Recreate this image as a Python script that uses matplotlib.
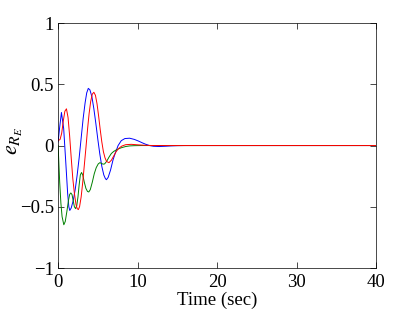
import matplotlib
matplotlib.use("Agg")
import matplotlib.pyplot as plt

t_blue = [0, 0.2, 0.42, 0.7, 0.95, 1.2, 1.35, 1.47, 1.65, 1.9, 2.15, 2.4, 2.65, 2.9, 3.15, 3.4, 3.6, 3.8, 4.0,
          4.25, 4.5, 4.75, 5.0, 5.25, 5.5, 5.75, 5.95, 6.08, 6.3, 6.6, 6.9, 7.2, 7.55, 7.95, 8.4, 9.0, 9.6,
          10.1, 10.6, 11.0, 11.5, 12.0, 12.7, 13.4, 14.2, 15.0, 16, 40]
v_blue = [0.03, 0.15, 0.27, 0.14, -0.12, -0.39, -0.50, -0.53, -0.51, -0.45, -0.36, -0.24, -0.10, 0.06, 0.22,
          0.35, 0.43, 0.467, 0.455, 0.40, 0.30, 0.18, 0.05, -0.07, -0.17, -0.24, -0.27, -0.279, -0.26, -0.2,
          -0.12, -0.06, 0.0, 0.04, 0.057, 0.06, 0.05, 0.037, 0.022, 0.011, 0.0, -0.006, -0.008, -0.006,
          -0.003, -0.001, 0, 0]

t_red = [0, 0.25, 0.45, 0.65, 0.85, 1.05, 1.25, 1.45, 1.65, 1.85, 2.05, 2.25, 2.4, 2.55, 2.7, 2.9, 3.1, 3.3,
         3.5, 3.7, 3.9, 4.1, 4.3, 4.5, 4.7, 4.9, 5.1, 5.3, 5.5, 5.7, 5.9, 6.1, 6.4, 6.7, 7.0, 7.3, 7.6, 8.0,
         8.5, 9.2, 10, 11, 12, 40]
v_red = [0.04, 0.05, 0.1, 0.2, 0.28, 0.30, 0.23, 0.08, -0.10, -0.27, -0.39, -0.48, -0.515, -0.523, -0.5, -0.42,
         -0.3, -0.16, -0.02, 0.13, 0.26, 0.36, 0.42, 0.435, 0.41, 0.34, 0.24, 0.13, 0.03, -0.05, -0.1, -0.13,
         -0.14, -0.12, -0.085, -0.05, -0.025, -0.005, 0.007, 0.01, 0.006, 0.002, 0, 0]

t_green = [0, 0.1, 0.2, 0.35, 0.5, 0.72, 0.9, 1.1, 1.3, 1.45, 1.6, 1.75, 1.9, 2.05, 2.2, 2.35, 2.5, 2.65, 2.8,
           2.95, 3.1, 3.3, 3.5, 3.7, 3.86, 4.05, 4.3, 4.55, 4.8, 5.05, 5.25, 5.45, 5.65, 5.85, 6.1, 6.4, 6.7,
           7.0, 7.3, 7.6, 8.0, 8.5, 9.0, 9.6, 10.5, 40]
v_green = [0, -0.15, -0.3, -0.47, -0.58, -0.647, -0.62, -0.54, -0.45, -0.40, -0.387, -0.40, -0.45, -0.50,
           -0.515, -0.49, -0.42, -0.32, -0.24, -0.22, -0.24, -0.3, -0.35, -0.375, -0.379, -0.36, -0.3, -0.23,
           -0.18, -0.15, -0.14, -0.145, -0.152, -0.15, -0.13, -0.095, -0.065, -0.048, -0.036, -0.027, -0.017,
           -0.008, -0.003, -0.001, 0, 0]

x_ticks = [0, 10, 20, 30, 40]
y_ticks = [-1, -0.5, 0, 0.5, 1]
y_tick_labels = ["\u22121", "\u22120.5", "0", "0.5", "1"]

plt.rcParams['font.family'] = ['Liberation Serif', 'DejaVu Serif']
plt.rcParams['mathtext.fontset'] = 'stix'

fig = plt.figure(figsize=(4.15, 3.12), dpi=100)
ax = fig.add_axes([0.140, 0.141, 0.766, 0.785])

lw = 0.7
ax.plot(t_blue, v_blue, color=(0, 0, 1), lw=lw)
ax.plot(t_green, v_green, color=(0, 0.5, 0), lw=lw)
ax.plot(t_red, v_red, color=(1, 0, 0), lw=lw)

ax.set_xlim(0, 40)
ax.set_ylim(-1, 1)
ax.set_xticks(x_ticks)
ax.set_yticks(y_ticks)
ax.set_yticklabels(y_tick_labels)
ax.tick_params(direction='in', top=True, right=True, labelsize=13.5, length=4, width=0.5)
ax.tick_params(axis='x', pad=4)
ax.tick_params(axis='y', pad=3)
for s in ax.spines.values():
    s.set_linewidth(0.5)

ax.set_xlabel("Time (sec)", fontsize=13.5)
ax.xaxis.set_label_coords(0.5, -0.098)
ax.set_ylabel(r"$e_{R_E}$", fontsize=16)
ax.yaxis.set_label_coords(-0.105, 0.52)

fig.savefig("out.png", dpi=100)
